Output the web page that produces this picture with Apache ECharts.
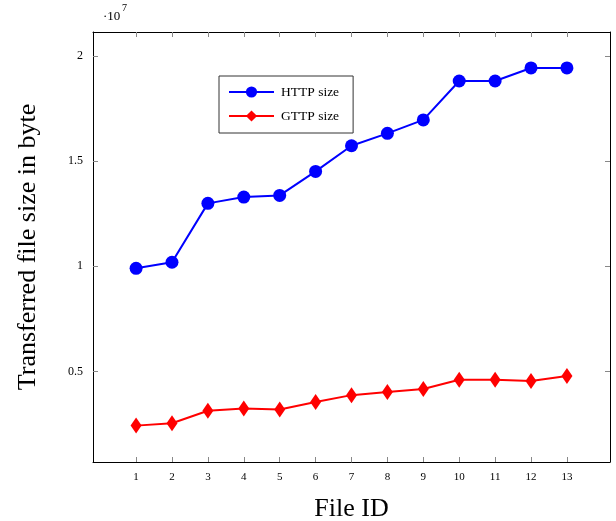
<!DOCTYPE html>
<html>
<head>
<meta charset="utf-8">
<script src="https://cdn.jsdelivr.net/npm/echarts@6/dist/echarts.min.js"></script>
<style>
  html, body { margin: 0; padding: 0; background: #fff; }
  #chart { width: 616px; height: 521px; }
</style>
</head>
<body>
<div id="chart"></div>
<script>
// file ids and transferred sizes (bytes)
var fileIds = [1, 2, 3, 4, 5, 6, 7, 8, 9, 10, 11, 12, 13];
var httpSize = [9.90e6, 1.019e7, 1.299e7, 1.329e7, 1.337e7, 1.451e7, 1.573e7, 1.632e7, 1.696e7, 1.881e7, 1.881e7, 1.943e7, 1.943e7];
var gttpSize = [2.42e6, 2.53e6, 3.13e6, 3.24e6, 3.19e6, 3.54e6, 3.87e6, 4.02e6, 4.16e6, 4.60e6, 4.60e6, 4.54e6, 4.78e6];
var yTicks = [0.5e7, 1e7, 1.5e7, 2e7];
var yTickLabels = ['0.5', '1', '1.5', '2'];

var serif = '"Liberation Serif", "DejaVu Serif", serif';

function pairs(ys) {
    return fileIds.map(function (x, i) { return [x, ys[i]]; });
}

var myChart = echarts.init(document.getElementById('chart'));

function ticks(values) {
    return { show: true, inside: true, length: 5, customValues: values, lineStyle: { color: '#888', width: 1 } };
}

var option = {
    backgroundColor: '#fff',
    animation: false,
    // axis multiplier  ·10^7
    graphic: [
        { type: 'text', left: 103, top: 10, style: { text: '·10', font: '13px ' + serif, fill: '#000' } },
        { type: 'text', left: 122, top: 3, style: { text: '7', font: '10px ' + serif, fill: '#000' } }
    ],
    grid: { left: 93, right: 6, top: 32, bottom: 59, containLabel: false, outerBoundsMode: 'none' },
    legend: {
        orient: 'vertical',
        left: 219,
        top: 76,
        padding: [9, 14, 10, 9],
        itemGap: 10,
        itemWidth: 45,
        itemHeight: 14,
        borderColor: '#333',
        borderWidth: 1,
        backgroundColor: '#fff',
        textStyle: { fontFamily: serif, fontSize: 13.5, color: '#000', padding: [0, 0, 0, 2] },
        data: ['HTTP size', 'GTTP size']
    },
    xAxis: [
        {
            type: 'value',
            min: -0.2,
            max: 14.2,
            name: 'File ID',
            nameLocation: 'middle',
            nameGap: 34,
            nameMoveOverlap: false,
            nameTextStyle: { fontFamily: serif, fontSize: 26, color: '#000' },
            axisLine: { show: true, onZero: false, lineStyle: { color: '#000', width: 1 } },
            axisTick: ticks(fileIds),
            axisLabel: { customValues: fileIds, fontFamily: serif, fontSize: 11, color: '#000', margin: 10 },
            splitLine: { show: false }
        },
        {
            type: 'value',
            position: 'top',
            min: -0.2,
            max: 14.2,
            axisLine: { show: true, onZero: false, lineStyle: { color: '#000', width: 1 } },
            axisTick: ticks(fileIds),
            axisLabel: { show: false },
            splitLine: { show: false }
        }
    ],
    yAxis: [
        {
            type: 'value',
            min: 0.069e7,
            max: 2.114e7,
            name: 'Transferred file size in byte',
            nameLocation: 'middle',
            nameGap: 52,
            nameRotate: 90,
            nameTextStyle: { fontFamily: serif, fontSize: 26, color: '#000' },
            axisLine: { show: true, onZero: false, lineStyle: { color: '#000', width: 1 } },
            axisTick: ticks(yTicks),
            axisLabel: {
                customValues: yTicks,
                fontFamily: serif,
                fontSize: 12,
                color: '#000',
                margin: 10,
                formatter: function (v) {
                    var i = yTicks.indexOf(v);
                    return i >= 0 ? yTickLabels[i] : '';
                }
            },
            splitLine: { show: false }
        },
        {
            type: 'value',
            position: 'right',
            min: 0.069e7,
            max: 2.114e7,
            axisLine: { show: true, onZero: false, lineStyle: { color: '#000', width: 1 } },
            axisTick: ticks(yTicks),
            axisLabel: { show: false },
            splitLine: { show: false }
        }
    ],
    series: [
        {
            name: 'HTTP size',
            type: 'line',
            data: pairs(httpSize),
            color: '#0000ff',
            symbol: 'circle',
            symbolSize: 13,
            lineStyle: { width: 2, color: '#0000ff' },
            itemStyle: { color: '#0000ff' }
        },
        {
            name: 'GTTP size',
            type: 'line',
            data: pairs(gttpSize),
            color: '#ff0000',
            symbol: 'diamond',
            symbolSize: [11, 16],
            lineStyle: { width: 2, color: '#ff0000' },
            itemStyle: { color: '#ff0000' }
        }
    ]
};

myChart.setOption(option);
window.addEventListener('resize', function () { myChart.resize(); });
</script>
</body>
</html>
